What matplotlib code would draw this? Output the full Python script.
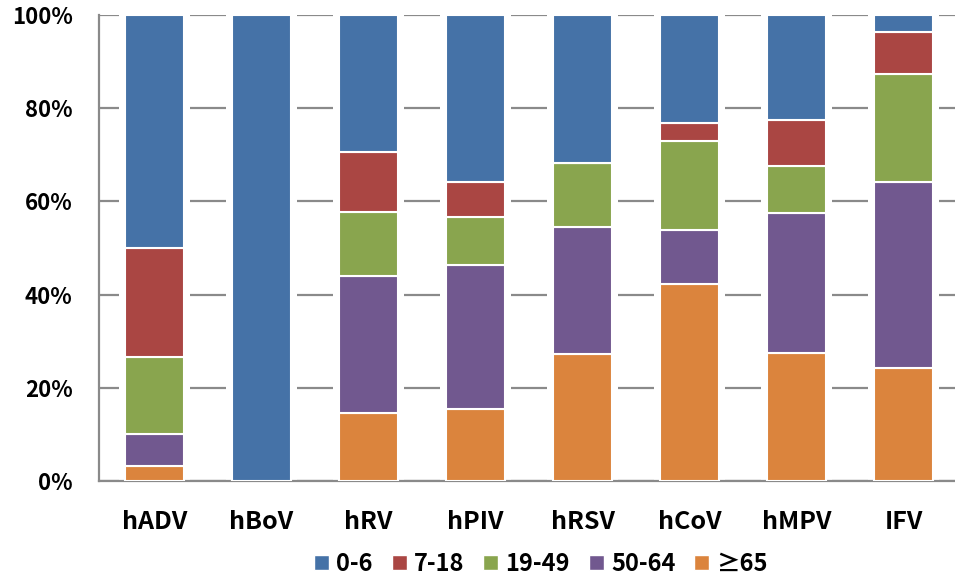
import matplotlib
matplotlib.use("Agg")
import matplotlib.pyplot as plt
from matplotlib.patches import Rectangle
from matplotlib.ticker import FuncFormatter
import numpy as np

plt.rcParams['font.family'] = ['Noto Sans CJK KR', 'DejaVu Sans']
plt.rcParams['font.weight'] = 'bold'

viruses = ["hADV", "hBoV", "hRV", "hPIV", "hRSV", "hCoV", "hMPV", "IFV"]
age_groups = ["0-6", "7-18", "19-49", "50-64", "\u226565"]

# percentage share of each age group per virus
age_0_6 = [50.0, 100.0, 29.4, 35.8, 31.8, 23.1, 22.5, 3.7]
age_7_18 = [23.3, 0.0, 12.9, 7.6, 0.0, 3.8, 10.0, 9.0]
age_19_49 = [16.7, 0.0, 13.7, 10.2, 13.6, 19.2, 10.0, 23.1]
age_50_64 = [6.7, 0.0, 29.5, 31.0, 27.3, 11.5, 30.0, 39.9]
age_65_plus = [3.3, 0.0, 14.5, 15.4, 27.3, 42.3, 27.5, 24.3]

colors = ["#4572A7", "#AA4643", "#89A54E", "#71588F", "#DB843D"]

fig = plt.figure(figsize=(9.55, 5.79), dpi=100)
ax = fig.add_axes([99 / 955, 98 / 579, 858 / 955, 466 / 579])

x = np.arange(len(viruses))
width = 0.55

# stacked from the bottom: oldest group first
stack = [age_65_plus, age_50_64, age_19_49, age_7_18, age_0_6]
stack_colors = colors[::-1]

# white halo behind each column so the gridlines stop short of the bars
ax.bar(x, [100] * len(x), width=width + 0.12, color="white", zorder=2)

bottom = np.zeros(len(x))
for vals, col in zip(stack, stack_colors):
    vals = np.array(vals)
    ax.bar(x, vals, width=width, bottom=bottom, color=col,
           edgecolor="white", linewidth=1.5, zorder=3)
    bottom += vals

ax.set_xlim(-0.52, 7.5)
ax.set_ylim(0, 100)
ax.set_yticks(np.arange(0, 101, 20))
ax.yaxis.set_major_formatter(FuncFormatter(lambda v, p: f"{int(v)}%"))
ax.set_xticks(x)
ax.set_xticklabels(viruses)

ax.grid(axis="y", color="#8a8a8a", linewidth=1.6, zorder=1)
ax.set_axisbelow(True)
for s in ["top", "right"]:
    ax.spines[s].set_visible(False)
for s in ["left", "bottom"]:
    ax.spines[s].set_color("#8a8a8a")
    ax.spines[s].set_linewidth(1.6)

ax.tick_params(axis="y", length=0, pad=19, labelsize=16)
ax.tick_params(axis="x", length=0, pad=21, labelsize=18)
for lbl in ax.get_xticklabels() + ax.get_yticklabels():
    lbl.set_fontweight("bold")

handles = [Rectangle((0, 0), 1, 1, facecolor=c, edgecolor="white") for c in colors]
fig.legend(handles, age_groups, loc="center", bbox_to_anchor=(541 / 955, 1 - 564 / 579),
           ncol=5, frameon=False, handlelength=0.64, handleheight=0.6,
           handletextpad=0.3, columnspacing=0.8, borderpad=0.1,
           prop={'weight': 'bold', 'size': 17})

fig.savefig("out.png", dpi=100)
